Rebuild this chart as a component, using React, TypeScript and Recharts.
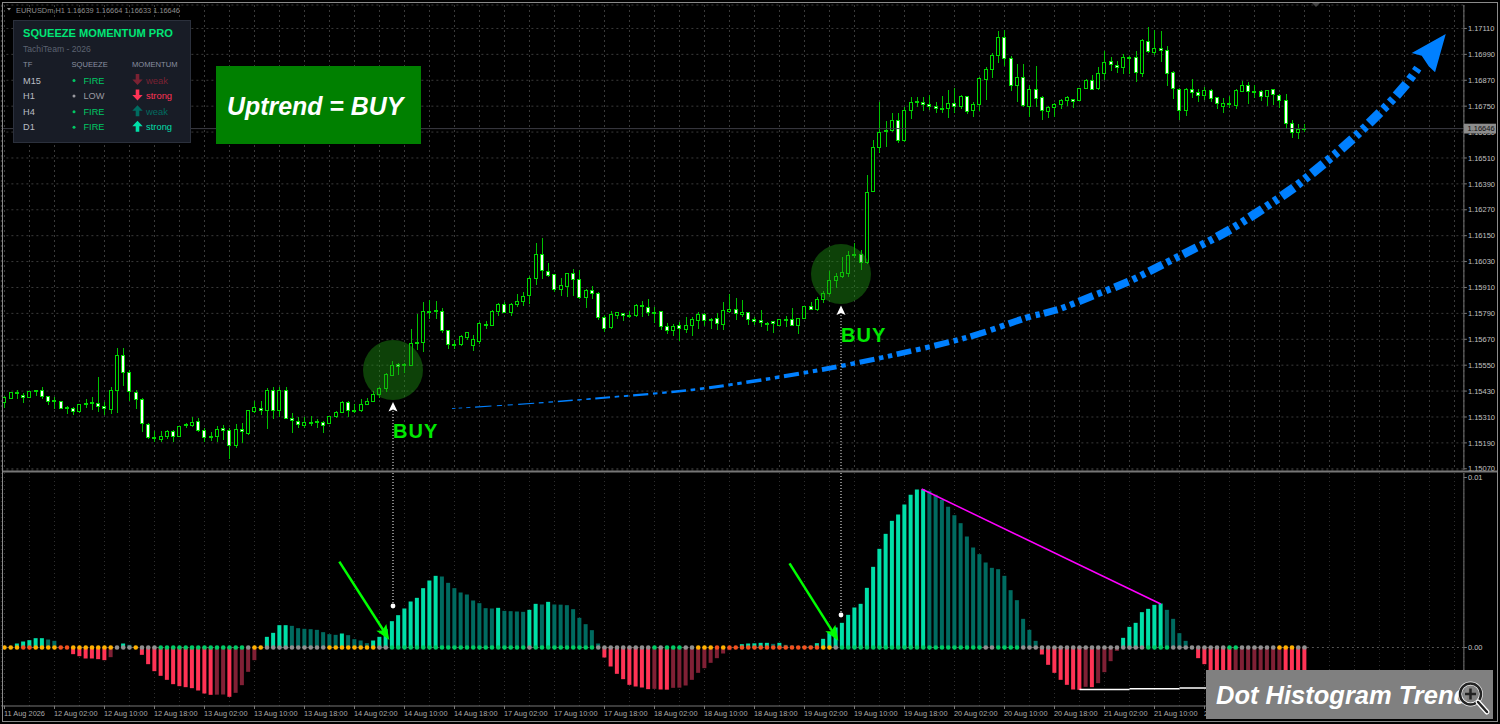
import React from "react";
import {
  ComposedChart, Bar, Line, Cell, XAxis, YAxis, CartesianGrid, ReferenceLine, ReferenceDot,
} from "recharts";

// Prices are given in points above 1.15000
const priceBase = 1.15;
const opens = [
  377,397,425,408,401,432,435,405,386,381, 355,350,335,367,372,372,360,346,435,593,
  517,425,392,276,213,207,219,242,219,275, 272,287,249,218,219,255,247,179,253,235,
  337,350,341,435,341,435,304,290,272,284, 287,286,281,310,332,378,341,340,369,381,
  415,442,503,551,551,550,655,654,800,802, 798,712,645,648,679,642,662,739,733,798,
  830,793,830,843,874,952,1061,986,968,902, 914,976,948,863,898,880,772,724,779,790,
  780,779,824,818,796,800,728,712,732,715, 736,756,786,763,764,738,798,809,783,795,
  763,758,741,753,736,763,763,736,765,823, 807,854,880,941,960,976,1064,1061,1025,1354,
  1560,1635,1638,1685,1590,1731,1772,1769,1759,1748, 1741,1737,1763,1748,1793,1729,1757,1873,1922,1984,
  2067,1969,1845,1884,1748,1825,1789,1725,1745,1756, 1775,1782,1775,1830,1871,1830,1902,1958,1939,1928,
  1977,1977,1902,2049,1998,2018,2006,1905,1828,1729, 1828,1814,1800,1824,1788,1748,1762,1754,1817,1847,
  1817,1817,1794,1828,1800,1774,1669,1627,1640,
];
const highs = [
  405,428,435,420,432,435,448,408,401,384, 361,354,371,395,401,496,381,451,628,628,
  528,435,397,281,247,247,250,250,269,281, 312,304,258,242,269,273,258,278,281,343,
  384,386,446,451,451,451,327,309,312,315, 299,292,315,340,386,384,369,395,397,432,
  451,513,571,562,562,716,787,844,852,847, 816,713,667,690,705,689,752,755,806,837,
  841,837,880,888,963,1115,1138,1022,968,953, 979,994,991,902,917,891,783,801,796,793,
  803,834,849,857,818,800,747,741,749,772, 772,795,793,770,790,844,880,863,852,798,
  772,806,750,756,765,779,814,770,826,844, 865,894,986,976,1053,1079,1118,1084,1431,1593,
  1771,1681,1717,1717,1748,1791,1791,1791,1800,1771, 1797,1825,1836,1800,1797,1771,1884,1933,1995,2100,
  2103,1983,1945,1945,1848,1936,1797,1751,1763,1783, 1797,1782,1833,1875,1895,1930,2006,1979,1961,1992,
  1983,2006,2060,2115,2103,2098,2029,1913,1833,1833, 1876,1830,1840,1830,1791,1789,1797,1828,1868,1861,
  1847,1825,1825,1828,1806,1806,1686,1667,1667,
];
const lows = [
  350,394,392,377,398,408,395,366,346,346, 324,318,330,350,343,335,318,324,327,454,
  386,347,242,207,196,196,207,196,216,258, 262,242,196,199,196,204,117,165,188,228,
  330,320,253,300,309,300,238,258,261,269, 259,235,278,306,327,312,330,333,366,378,
  397,428,500,505,516,545,620,613,764,764, 698,625,625,639,667,616,648,718,732,778,
  790,779,821,826,834,922,949,957,891,871, 867,871,855,814,855,759,705,716,765,755,
  767,775,775,779,744,713,694,685,662,698, 685,718,732,718,713,713,793,759,775,736,
  736,728,710,700,733,728,732,695,763,804, 803,840,874,909,952,960,1045,991,1019,1351,
  1532,1560,1632,1581,1585,1689,1745,1729,1732,1720, 1717,1697,1720,1736,1714,1700,1728,1779,1882,1949,
  1938,1822,1771,1745,1701,1745,1686,1697,1701,1736, 1752,1743,1774,1828,1825,1826,1871,1913,1902,1899,
  1899,1863,1884,1998,1987,1956,1845,1785,1686,1705, 1787,1768,1779,1771,1736,1720,1740,1738,1816,1760,
  1789,1774,1751,1756,1740,1643,1604,1598,1629,
];
const closes = [
  401,425,417,401,429,430,405,380,384,350, 352,337,369,371,375,360,350,432,593,516,
  428,392,281,213,211,219,242,221,266,269, 284,247,216,217,253,249,179,253,241,341,
  354,340,435,341,435,304,292,276,284,285, 285,272,312,333,378,338,340,367,384,415,
  443,505,550,545,552,652,653,801,798,804, 710,644,646,682,701,668,744,733,798,830,
  793,830,844,869,953,1061,988,965,902,920, 976,945,863,898,880,772,721,784,793,778,
  779,826,826,792,795,728,710,730,719,735, 763,786,756,762,741,804,809,789,795,763,
  753,746,740,742,763,762,736,767,823,807, 855,881,943,962,980,1059,1063,1025,1351,1560,
  1629,1634,1685,1589,1731,1766,1773,1759,1748,1737, 1740,1763,1748,1793,1726,1756,1879,1921,1987,2069,
  1969,1845,1884,1751,1828,1785,1729,1745,1757,1777, 1788,1773,1830,1871,1828,1902,1953,1941,1928,1977,
  1976,1904,2053,2002,2016,2006,1902,1831,1729,1828, 1813,1799,1824,1785,1763,1763,1763,1822,1847,1817,
  1818,1794,1824,1802,1774,1669,1627,1640,1646,
];
// Histogram values, in units of 0.00001
const momentum = [
  0,2,24,36,44,56,56,48,40,6, 2,-40,-52,-66,-66,-70,-76,-58,-10,24,
  16,6,-44,-100,-142,-170,-194,-220,-232,-238, -244,-258,-276,-284,-283,-282,-296,-272,-226,-146,
  -76,-6,64,88,134,134,130,116,112,110, 106,92,80,76,84,74,50,42,26,42,
  64,110,158,194,234,276,298,356,402,430, 426,388,356,330,318,282,266,236,234,238,
  220,218,216,214,226,262,258,274,258,257, 254,230,178,140,104,24,-60,-114,-158,-190,
  -224,-234,-240,-250,-248,-252,-253,-242,-241,-228, -194,-152,-124,-92,-64,-36,-16,-4,20,24,
  25,28,28,22,28,16,12,8,8,10, 26,52,90,120,148,196,240,262,358,484,
  592,682,760,798,858,916,948,950,940,916, 886,844,794,746,666,600,560,510,478,470,
  430,344,284,172,106,40,-42,-104,-152,-194, -224,-252,-254,-236,-238,-214,-148,-82,-20,58,
  124,148,212,232,256,264,226,172,86,40, 6,-64,-100,-170,-200,-224,-240,-234,-228,-220,
  -212,-204,-196,-188,-180,-184,-190,-194,-200,
];
// Y yellow, R red-orange, N grey, G green
const squeezeDots =
  "YYYRRYYYYRRYYYYYYYNNNYNNNGGGGGGGGGGGGGGNYYNNNNNNNNNNYYYYYYYYNN" +
  "GGGGGGGGGGGGGGGGGGGGGGNGGGGGGGGGGNNNNNNNNNGNGGGNNYYYRY" +
  "RRRRRRRRRRRRRRRYYNGGGGGGGGGGGGGGGGGGGGGGGNNGGGG" +
  "NNNNNNNNNNNNNNNNNNNNGGGGNNNNNNNNNGGNNNNNNYYYNN";
const timeLabels = [
  "11 Aug 2026","12 Aug 02:00","12 Aug 10:00","12 Aug 18:00","13 Aug 02:00","13 Aug 10:00","13 Aug 18:00",
  "14 Aug 02:00","14 Aug 10:00","14 Aug 18:00","17 Aug 02:00","17 Aug 10:00","17 Aug 18:00","18 Aug 02:00",
  "18 Aug 10:00","18 Aug 18:00","19 Aug 02:00","19 Aug 10:00","19 Aug 18:00","20 Aug 02:00","20 Aug 10:00",
  "20 Aug 18:00","21 Aug 02:00","21 Aug 10:00","21 Aug 18:00",
];
const priceTicks = [2110,1990,1870,1750,1630,1510,1390,1270,1150,1030,910,790,670,550,430,310,190,70];
const momentumTicks = [0.0102, 0];
// Big trend arrow centre line: bar position and price points
const trendBars = [71.6,85.4,97.5,109.7,121,133.1,144.4,154.8,163.4,168.35,174.2,179.8,185.15,190.5,195.8,200.9,205.95,210.5,215.1,219.4,223.6,226.5];
const trendPoints = [349,375,403,435,481,542,611,685,769,806,872,937,1014,1092,1173,1266,1365,1470,1583,1701,1828,1941];
const trendThickness = [0.8,1.2,1.8,2.6,3.4,4.4,5.3,6,6.5,6.8,7.1,7.4,7.7,8,8.3,8.6,8.8,9,9,9,9,9];
const panelRows = [
  { tf: "M15", state: "FIRE", stateColor: "#00c864", up: false, mom: "weak", momColor: "#7a2233" },
  { tf: "H1", state: "LOW", stateColor: "#9a9aa0", up: false, mom: "strong", momColor: "#ff3355" },
  { tf: "H4", state: "FIRE", stateColor: "#00c864", up: true, mom: "weak", momColor: "#006b60" },
  { tf: "D1", state: "FIRE", stateColor: "#00c864", up: true, mom: "strong", momColor: "#00dfa8" },
];

const toPrice = (p: number) => priceBase + p / 100000;
const TOTAL_SLOTS = 234;
const rows = Array.from({ length: TOTAL_SLOTS }, (_, i) => {
  const has = i < opens.length;
  return {
    idx: i,
    open: has ? toPrice(opens[i]) : undefined,
    close: has ? toPrice(closes[i]) : undefined,
    high: has ? toPrice(highs[i]) : undefined,
    low: has ? toPrice(lows[i]) : undefined,
    range: has ? [toPrice(lows[i]), toPrice(highs[i])] : undefined,
    hist: has ? momentum[i] / 100000 : undefined,
    zero: has ? 0 : undefined,
    squeeze: has ? squeezeDots[i] : undefined,
  };
});
const gridTicks = rows.filter((r) => r.idx % 4 === 0).map((r) => r.idx);

const BAR_PX = 6.25;
const POINT_PX = 1 / 4.633;
type Dash = { x1: number; y1: number; x2: number; y2: number; w: number };
function spline(a: number[], k: number, t: number) {
  const p0 = a[Math.max(0, k - 1)], p1 = a[k], p2 = a[k + 1], p3 = a[Math.min(a.length - 1, k + 2)];
  return 0.5 * (2 * p1 + (p2 - p0) * t + (2 * p0 - 5 * p1 + 4 * p2 - p3) * t * t + (3 * p1 - p0 - 3 * p2 + p3) * t * t * t);
}
function buildDashes(): Dash[] {
  const cum = [0];
  for (let i = 1; i < trendBars.length; i++) {
    const dx = (trendBars[i] - trendBars[i - 1]) * BAR_PX;
    const dy = (trendPoints[i] - trendPoints[i - 1]) * POINT_PX;
    cum.push(cum[i - 1] + Math.hypot(dx, dy));
  }
  const at = (s: number) => {
    let k = 0;
    while (k < cum.length - 2 && cum[k + 1] < s) k++;
    const t = (s - cum[k]) / (cum[k + 1] - cum[k]);
    return {
      x: spline(trendBars, k, t),
      p: spline(trendPoints, k, t),
      w: trendThickness[k] + t * (trendThickness[k + 1] - trendThickness[k]),
    };
  };
  const out: Dash[] = [];
  const total = cum[cum.length - 1];
  const pattern: [number, number][] = [[15, 1.05], [4.5, 0.95], [4.5, 0.95]];
  let s = total - 6;
  // walk backwards from the head so that the pattern lines up with the tip
  let k = 2;
  while (s > 0) {
    const [len, wf] = pattern[k];
    const a = at(Math.max(0, s - len));
    const b = at(s);
    out.push({ x1: a.x, y1: toPrice(a.p), x2: b.x, y2: toPrice(b.p), w: Math.max(0.7, b.w * wf) });
    s -= len + 4.7;
    k = (k + 2) % 3;
  }
  return out;
}
const dashes = buildDashes();

const FONT = "'Liberation Sans', Arial, sans-serif";
const LIGHT_GREEN = "#00e800";

const dotColor: Record<string, string> = { Y: "#ffb000", R: "#f4511e", N: "#909090", G: "#00cc66" };
function histColor(i: number) {
  const v = momentum[i];
  const prev = i > 0 ? momentum[i - 1] : v;
  if (v >= 0) return v >= prev ? "#00dfa8" : "#006b60";
  return v <= prev ? "#ff3355" : "#802035";
}

function Candle(props: any) {
  const { x, y, width, height, payload } = props;
  if (!payload || payload.open === undefined || !Number.isFinite(y)) return null;
  const cx = Math.round(x + width / 2) + 0.5;
  const span = payload.high - payload.low || 1e-9;
  const toY = (v: number) => y + ((payload.high - v) / span) * height;
  const top = toY(Math.max(payload.open, payload.close));
  const bottom = toY(Math.min(payload.open, payload.close));
  const up = payload.close >= payload.open;
  return (
    <g shapeRendering="crispEdges">
      <line x1={cx} x2={cx} y1={y} y2={y + height} stroke="#00c000" strokeWidth={1} />
      <rect x={cx - 2} y={top} width={3} height={Math.max(bottom - top, 1)} fill={up ? "#000" : "#fff"} stroke="#00d800" strokeWidth={1} />
    </g>
  );
}

function TimeTick(props: any) {
  const { x, payload } = props;
  const i = payload.value as number;
  if (i % 8 !== 0 || timeLabels[i / 8] === undefined) return null;
  return (
    <g>
      <line x1={x} x2={x} y1={706} y2={709} stroke="#777" />
      <text x={x - 0.5} y={716} textAnchor="start" fontFamily={FONT} fontSize={7.4} fill="#a8a8a8">
        {timeLabels[i / 8]}
      </text>
    </g>
  );
}

function polyShape(points: number[][], fill: string) {
  return (p: any) => (
    <polygon points={points.map(([a, b]) => `${p.cx + a},${p.cy + b}`).join(" ")} fill={fill} />
  );
}
const whiteHead = polyShape([[0, 0], [-4.5, 9.5], [0, 7.5], [4.5, 9.5]], "#fff");
const greenHead = polyShape([[0, 0], [-13, -9.3], [-7, -9.5], [-3, -16]], "#00ff00");
const trendHead = polyShape([[0, 0], [-34, 19], [-24, 21.7], [-17, 32.3], [-10.7, 38.3]], "#0080ff");

function Arrow({ x, y, up, color }: { x: number; y: number; up: boolean; color: string }) {
  const s = up ? -1 : 1;
  const pts = [[-1.8, -5.5], [1.8, -5.5], [1.8, 0], [5.2, 0], [0, 5.5], [-5.2, 0], [-1.8, 0]]
    .map(([a, b]) => `${x + a},${y + s * b}`).join(" ");
  return <polygon points={pts} fill={color} />;
}

export default function App() {
  return (
    <div style={{ position: "absolute", left: 0, top: 0, width: 1500, height: 724, background: "#000", overflow: "hidden" }}>
      <div style={{ position: "absolute", left: 0, top: 0 }}>
        <ComposedChart width={1500} height={480} data={rows} margin={{ top: 5, right: 0, bottom: 10, left: 1.375 }} barCategoryGap={0}>
          <CartesianGrid stroke="#3a3a3a" strokeDasharray="2 3" />
          <XAxis dataKey="idx" type="category" hide ticks={gridTicks} interval={0} height={0} />
          <XAxis xAxisId="num" dataKey="idx" type="number" domain={[-0.5, 233.5]} hide height={0} allowDataOverflow />
          <YAxis
            orientation="right"
            width={36.125}
            domain={[1.150644, 1.172187]}
            allowDataOverflow
            ticks={priceTicks.map(toPrice)}
            interval={0}
            tickFormatter={(v: number) => v.toFixed(5)}
            tick={{ fill: "#c0c0c0", fontSize: 7.5, fontFamily: FONT }}
            tickSize={3}
            tickMargin={1}
            tickLine={{ stroke: "#777" }}
            axisLine={{ stroke: "#777" }}
          />
          <ReferenceDot xAxisId="num" x={62.16} y={toPrice(528)} r={30} fill="#1f9a12" fillOpacity={0.42} stroke="none" ifOverflow="visible" />
          <ReferenceDot xAxisId="num" x={133.84} y={toPrice(972)} r={30} fill="#1f9a12" fillOpacity={0.42} stroke="none" ifOverflow="visible" />
          <ReferenceLine y={toPrice(1646)} stroke="#3c3c44" strokeWidth={1} />
          <Bar dataKey="range" isAnimationActive={false} shape={Candle} />
          {dashes.map((d, i) => (
            <ReferenceLine key={i} xAxisId="num" ifOverflow="visible" stroke="#0080ff" strokeWidth={d.w}
              segment={[{ x: d.x1, y: d.y1 }, { x: d.x2, y: d.y2 }]} />
          ))}
          <ReferenceDot xAxisId="num" x={230.6} y={toPrice(2084)} ifOverflow="visible" shape={trendHead} />
          <ReferenceLine xAxisId="num" ifOverflow="visible" stroke="#fff" strokeDasharray="1 2"
            segment={[{ x: 62.16, y: toPrice(338) }, { x: 62.16, y: toPrice(65) }]} />
          <ReferenceLine xAxisId="num" ifOverflow="visible" stroke="#fff" strokeDasharray="1 2"
            segment={[{ x: 133.84, y: toPrice(782) }, { x: 133.84, y: toPrice(65) }]} />
          <ReferenceDot xAxisId="num" x={62.16} y={toPrice(380)} ifOverflow="visible" shape={whiteHead} />
          <ReferenceDot xAxisId="num" x={133.84} y={toPrice(827)} ifOverflow="visible" shape={whiteHead} />
        </ComposedChart>
      </div>

      <div style={{ position: "absolute", left: 0, top: 0 }}>
        <ComposedChart width={1500} height={724} data={rows} margin={{ top: 473, right: 0, bottom: 0, left: 1.375 }} barCategoryGap={0}>
          <CartesianGrid stroke="#2e2e2e" strokeDasharray="1 3" horizontal={false} />
          <XAxis dataKey="idx" type="category" ticks={gridTicks} interval={0} height={18} tick={TimeTick} tickLine={false} axisLine={{ stroke: "#777" }} />
          <XAxis xAxisId="num" dataKey="idx" type="number" domain={[-0.5, 233.5]} hide height={0} allowDataOverflow />
          <YAxis
            orientation="right"
            width={36.125}
            domain={[-0.00351, 0.01047]}
            allowDataOverflow
            ticks={momentumTicks}
            interval={0}
            tickFormatter={(v: number) => v.toFixed(2)}
            tick={{ fill: "#c0c0c0", fontSize: 7.5, fontFamily: FONT }}
            tickSize={3}
            tickMargin={1}
            tickLine={{ stroke: "#777" }}
            axisLine={{ stroke: "#777" }}
          />
          <ReferenceLine y={0} stroke="#555" strokeDasharray="2 3" />
          <Bar dataKey="hist" isAnimationActive={false} barSize={4}>
            {rows.map((r) => (
              <Cell key={r.idx} fill={r.idx < momentum.length ? histColor(r.idx) : "none"} />
            ))}
          </Bar>
          <Line
            dataKey="zero"
            stroke="none"
            isAnimationActive={false}
            legendType="none"
            dot={(p: any) =>
              p.payload.squeeze ? (
                <circle key={p.index} cx={p.cx} cy={p.cy} r={2.3} fill={dotColor[p.payload.squeeze]} />
              ) : (
                <g key={p.index} />
              )
            }
          />
          <ReferenceLine xAxisId="num" ifOverflow="visible" stroke="#ff00ff" strokeWidth={1.5}
            segment={[{ x: 146.75, y: 0.00951 }, { x: 185, y: 0.00261 }]} />
          <ReferenceLine xAxisId="num" ifOverflow="visible" stroke="#fff" strokeWidth={1.5}
            segment={[{ x: 172, y: -0.00252 }, { x: 180, y: -0.00252 }]} />
          <ReferenceLine xAxisId="num" ifOverflow="visible" stroke="#fff" strokeWidth={1.5}
            segment={[{ x: 180, y: -0.00248 }, { x: 188, y: -0.00248 }]} />
          <ReferenceLine xAxisId="num" ifOverflow="visible" stroke="#fff" strokeWidth={1.5}
            segment={[{ x: 188, y: -0.00243 }, { x: 198, y: -0.00243 }]} />
          <ReferenceLine xAxisId="num" ifOverflow="visible" stroke="#fff" strokeDasharray="1 2"
            segment={[{ x: 62.16, y: 0.01047 }, { x: 62.16, y: 0.00249 }]} />
          <ReferenceLine xAxisId="num" ifOverflow="visible" stroke="#fff" strokeDasharray="1 2"
            segment={[{ x: 133.84, y: 0.01047 }, { x: 133.84, y: 0.00195 }]} />
          <ReferenceDot xAxisId="num" x={62.16} y={0.00249} r={2.4} fill="#fff" stroke="none" ifOverflow="visible" />
          <ReferenceDot xAxisId="num" x={133.84} y={0.00195} r={2.4} fill="#fff" stroke="none" ifOverflow="visible" />
          <ReferenceLine xAxisId="num" ifOverflow="visible" stroke="#00ff00" strokeWidth={2.5}
            segment={[{ x: 53.57, y: 0.00515 }, { x: 61.1, y: 0.00075 }]} />
          <ReferenceLine xAxisId="num" ifOverflow="visible" stroke="#00ff00" strokeWidth={2.5}
            segment={[{ x: 125.6, y: 0.00505 }, { x: 133, y: 0.00065 }]} />
          <ReferenceDot xAxisId="num" x={61.57} y={0.00045} ifOverflow="visible" shape={greenHead} />
          <ReferenceDot xAxisId="num" x={133.41} y={0.00041} ifOverflow="visible" shape={greenHead} />
        </ComposedChart>
      </div>

      <svg width={1500} height={724} style={{ position: "absolute", left: 0, top: 0, pointerEvents: "none" }}>
        <rect x={2.5} y={2.5} width={1495} height={719} fill="none" stroke="#8a8a8a" />
        <rect x={3} y={470.5} width={1494} height={2} fill="#777" />
        <polygon points="1312,3 1320,3 1316,7" fill="#444" />

        <rect x={1464} y={123.7} width={32} height={9.8} fill="#8c8c8c" />
        <text x={1467.5} y={131.4} fontFamily={FONT} fontSize={7.5} fill="#111">1.16646</text>

        <polygon points="7,8 11,8 9,10.5" fill="#999" />
        <text x={16} y={12.5} fontFamily={FONT} fontSize={7.4} fill="#8e8e8e">EURUSDm,H1  1.16639 1.16664 1.16633 1.16646</text>

        <rect x={13.5} y={20.5} width={177} height={122} fill="#181c26" stroke="#2b303c" />
        <text x={23} y={37} fontFamily={FONT} fontWeight={700} fontSize={11.1} fill="#00e676">SQUEEZE MOMENTUM PRO</text>
        <text x={23} y={51.5} fontFamily={FONT} fontSize={8.6} fill="#5c6270">TachiTeam - 2026</text>
        <text x={23} y={67} fontFamily={FONT} fontSize={7.6} fill="#8a90a0">TF</text>
        <text x={71.5} y={67} fontFamily={FONT} fontSize={7.6} fill="#8a90a0">SQUEEZE</text>
        <text x={132} y={67} fontFamily={FONT} fontSize={7.6} fill="#8a90a0">MOMENTUM</text>
        {panelRows.map((r, i) => {
          const y = 83.5 + i * 15.6;
          return (
            <g key={r.tf}>
              <text x={23} y={y} fontFamily={FONT} fontSize={9.2} fill="#b8bcc4">{r.tf}</text>
              <circle cx={74} cy={y - 3} r={1.5} fill={r.stateColor} />
              <text x={83.5} y={y} fontFamily={FONT} fontSize={9.2} fill={r.stateColor}>{r.state}</text>
              <Arrow x={137.5} y={y - 4} up={r.up} color={r.momColor} />
              <text x={146} y={y} fontFamily={FONT} fontSize={9.4} fill={r.momColor}>{r.mom}</text>
            </g>
          );
        })}

        <rect x={216} y={66} width={205} height={78} fill="#008000" />
        <text x={227} y={115} fontFamily={FONT} fontWeight={700} fontStyle="italic" fontSize={24.9} fill="#fff">Uptrend = BUY</text>

        <text x={393} y={438} fontFamily={FONT} fontWeight={700} fontSize={20} letterSpacing={1} fill={LIGHT_GREEN}>BUY</text>
        <text x={841} y={342} fontFamily={FONT} fontWeight={700} fontSize={20} letterSpacing={1} fill={LIGHT_GREEN}>BUY</text>

        <rect x={1206} y={670} width={287} height={49} fill="#808080" />
        <text x={1216} y={704} fontFamily={FONT} fontWeight={700} fontStyle="italic" fontSize={25.5} fill="#fff">Dot Histogram Trend</text>
        <circle cx={1470.5} cy={694} r={10.5} fill="#808080" stroke="#fff" strokeWidth={4} opacity={0.9} />
        <circle cx={1470.5} cy={694} r={10.5} fill="none" stroke="#222" strokeWidth={2.5} />
        <line x1={1478} x2={1487} y1={702} y2={712} stroke="#fff" strokeWidth={5} strokeLinecap="round" />
        <line x1={1478} x2={1487} y1={702} y2={712} stroke="#222" strokeWidth={2.5} strokeLinecap="round" />
        <path d="M1465 694h11M1470.5 688.5v11" stroke="#222" strokeWidth={2.5} />
      </svg>
    </div>
  );
}
